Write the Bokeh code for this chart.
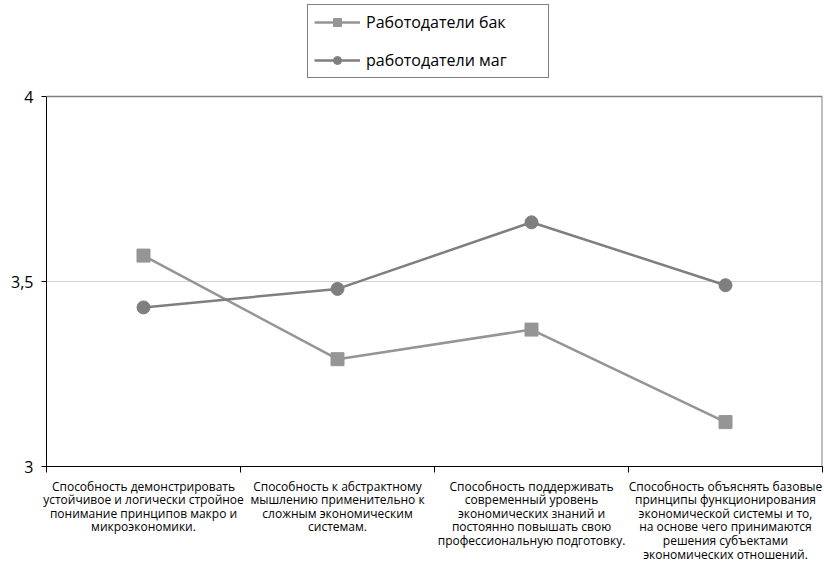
from bokeh.plotting import figure
from bokeh.models import Range1d, FixedTicker, LinearAxis, Legend, LegendItem, Span
from bokeh.embed import file_html
from bokeh.resources import INLINE

categories = [
    "Способность демонстрировать\nустойчивое и логически стройное\nпонимание принципов макро и\nмикроэкономики.",
    "Способность к абстрактному\nмышлению применительно к\nсложным экономическим\nсистемам.",
    "Способность поддерживать\nсовременный уровень\nэкономических знаний и\nпостоянно повышать свою\nпрофессиональную подготовку.",
    "Способность объяснять базовые\nпринципы функционирования\nэкономической системы и то,\nна основе чего принимаются\nрешения субъектами\nэкономических отношений.",
]
bak = [3.57, 3.29, 3.37, 3.12]
mag = [3.43, 3.48, 3.66, 3.49]
series_names = ["Работодатели бак", "работодатели маг"]
y_ticks = [3, 3.5, 4]
y_labels = ["3", "3,5", "4"]

xs = [i + 0.5 for i in range(len(categories))]
FONT = "Open Sans"

# layout: value axis 3..4 spans 370px; extra 96px headroom above for the legend
PX_PER_UNIT = 370.0
HEAD = 96
y_lo, y_hi = y_ticks[0], y_ticks[-1]
y_top = y_hi + HEAD / PX_PER_UNIT

p = figure(width=824, height=565, output_backend="svg", toolbar_location=None,
           x_range=Range1d(0, len(categories)), y_range=Range1d(y_lo, y_top),
           min_border_left=46, min_border_right=2, min_border_top=0, min_border_bottom=99,
           x_axis_type=None)
p.outline_line_color = None
p.background_fill_color = "white"
p.border_fill_color = "white"

# y axis
p.yaxis.ticker = FixedTicker(ticks=y_ticks)
p.yaxis.bounds = (y_lo, y_hi)
p.yaxis.major_label_overrides = {t: l for t, l in zip(y_ticks, y_labels)}
p.yaxis.major_label_text_font = FONT
p.yaxis.major_label_text_font_size = "16px"
p.yaxis.major_label_text_color = "black"
p.yaxis.axis_line_color = "black"
p.yaxis.major_tick_line_color = "black"
p.yaxis.major_tick_in = 0
p.yaxis.major_tick_out = 5
p.yaxis.minor_tick_line_color = None
p.yaxis.major_label_standoff = 8

# single x axis: labels at category centres, minor ticks at category boundaries
xl = LinearAxis(ticker=FixedTicker(ticks=xs, minor_ticks=list(range(len(categories) + 1))))
xl.major_label_overrides = {x: c for x, c in zip(xs, categories)}
xl.major_label_text_font = FONT
xl.major_label_text_font_size = "12px"
xl.major_label_text_color = "black"
xl.major_label_text_line_height = 0.8
xl.axis_line_color = "black"
xl.major_tick_line_color = None
xl.major_tick_in = 0
xl.major_tick_out = 0
xl.minor_tick_line_color = "black"
xl.minor_tick_in = 0
xl.minor_tick_out = 6
xl.major_label_standoff = 5
p.add_layout(xl, "below")

p.xgrid.visible = False
p.ygrid.ticker = FixedTicker(ticks=[3.5])
p.ygrid.grid_line_color = "#a6a6a6"
p.ygrid.grid_line_dash = "1 1"
p.ygrid.grid_line_width = 1

# plot-area border (top and right)
p.add_layout(Span(location=y_hi, dimension="width", line_color="#7f7f7f", line_width=1.5))
p.segment(x0=[len(categories)], y0=[y_lo], x1=[len(categories)], y1=[y_hi],
          line_color="#7f7f7f", line_width=2)

c_bak = "#959595"
c_mag = "#7f7f7f"
l1 = p.line(xs, bak, line_color=c_bak, line_width=2.5)
s1 = p.scatter(xs, bak, marker="square", size=13, fill_color=c_bak, line_color=c_bak)
l2 = p.line(xs, mag, line_color=c_mag, line_width=2.5)
s2 = p.scatter(xs, mag, marker="circle", size=13, fill_color=c_mag, line_color=c_mag)

legend = Legend(items=[LegendItem(label=series_names[0], renderers=[l1, s1]),
                       LegendItem(label=series_names[1], renderers=[l2, s2])],
                location=(261, 388), orientation="vertical")
legend.label_text_font = FONT
legend.label_text_font_size = "16px"
legend.label_text_color = "black"
legend.border_line_color = "black"
legend.border_line_width = 1
legend.glyph_width = 46
legend.glyph_height = 20
legend.label_height = 20
legend.label_width = 176
legend.spacing = 16
legend.padding = 6
legend.margin = 0
legend.label_standoff = 6
legend.background_fill_alpha = 1
p.add_layout(legend, "center")

open("out.html", "w").write(file_html(p, INLINE))
